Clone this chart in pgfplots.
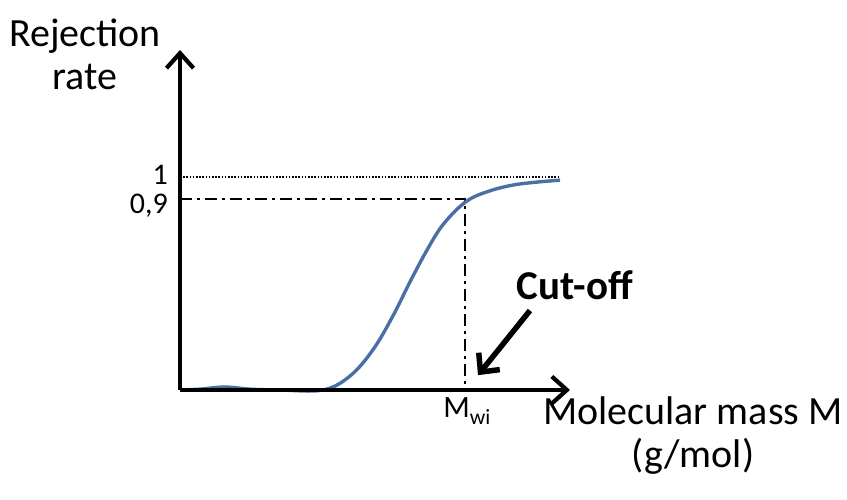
\documentclass[border=0pt]{standalone}
\usepackage{pgfplots}
\pgfplotsset{compat=1.18}
\usepackage{fontspec}
\setmainfont{Carlito}
\usetikzlibrary{arrows.meta}
\definecolor{curveblue}{RGB}{74,112,163}
\begin{document}
\begin{tikzpicture}
\begin{axis}[
  scale only axis, width=390pt, height=340pt,
  xmin=0, xmax=390, ymin=0, ymax=1.604,
  axis lines=none, clip=false,
  anchor=origin, at={(0pt,0pt)},
]
% guide lines
\draw[line width=1.6pt, dash pattern=on 1.6pt off 1.6pt] (axis cs:0,1.005) -- (axis cs:380,1.005);
\draw[line width=2.4pt, dash pattern=on 12pt off 5pt on 3pt off 5pt]
  (axis cs:0,0.9) -- (axis cs:285,0.9) -- (axis cs:285,0);
% rejection curve
\addplot[curveblue, line width=3.4pt, smooth, tension=0.6] coordinates {
  (0,0) (20,0.004) (45,0.014) (70,0.004) (100,0) (143,0)
  (170,0.066) (193,0.19) (213,0.35) (230,0.51) (247,0.66)
  (263,0.78) (285,0.885) (307,0.935) (337,0.97) (380,0.99)};
% axes
\draw[line width=4.2pt, -{Straight Barb[length=15pt, width=27pt, line width=4.2pt]}]
  (axis cs:0,0) -- (axis cs:390,0);
\draw[line width=4.2pt, -{Straight Barb[length=15pt, width=27pt, line width=4.2pt]}]
  (axis cs:0,0) -- (axis cs:0,1.604);
% labels
\node[anchor=east, inner sep=0pt, font=\fontsize{30}{34}\selectfont] at (axis cs:-12,1.015) {1};
\node[anchor=east, inner sep=0pt, font=\fontsize{30}{34}\selectfont] at (axis cs:-12,0.87) {0,9};
\node[font=\fontsize{31}{34}\selectfont] at (axis cs:287,-0.1) {M\textsubscript{wi}};
\node[align=center, font=\fontsize{40}{43}\selectfont] at (axis cs:-95,1.585) {Rejection\\rate};
\node[align=center, font=\fontsize{40}{43}\selectfont] at (axis cs:513,-0.215) {Molecular mass M\\(g/mol)};
\node[font=\bfseries\fontsize{41}{44}\selectfont] at (axis cs:395,0.495) {Cut-off};
\draw[line width=5.5pt, -{Straight Barb[length=14pt, width=27pt, line width=5.5pt]}]
  (axis cs:350,0.375) -- (axis cs:298,0.07);
\end{axis}
\path[use as bounding box] (-180pt,-110pt) rectangle (667pt,390pt);
\end{tikzpicture}
\end{document}
